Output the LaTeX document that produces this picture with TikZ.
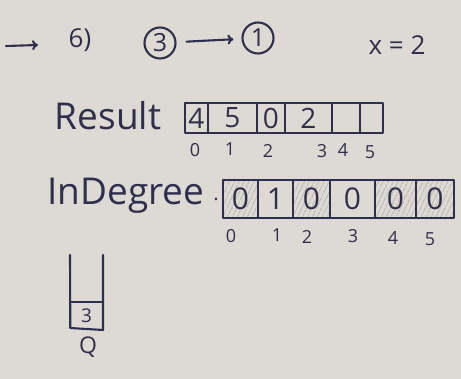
\documentclass[tikz,border=0pt]{standalone}
\usepackage{fontspec}
\setmainfont{Open Sans}
\usetikzlibrary{arrows.meta,patterns.meta}
\definecolor{paper}{RGB}{221,218,211}
\definecolor{inkc}{RGB}{48,46,78}
\definecolor{shade}{RGB}{178,175,168}
\begin{document}
\begin{tikzpicture}[x=1pt,y=-1pt,
  ink/.style={draw=inkc,line width=2.1pt,line cap=round,line join=round},
  txt/.style={text=inkc,inner sep=0pt},
  big/.style={txt,font=\fontsize{37}{37}\selectfont},
  mid/.style={txt,font=\fontsize{26}{26}\selectfont},
  idx/.style={txt,font=\fontsize{18}{18}\selectfont},
  circ/.style={ink,circle,minimum size=31pt,inner sep=0pt,text=inkc,font=\fontsize{25}{25}\selectfont},
  rcell/.style={ink,rectangle,minimum height=30pt,inner sep=0pt,text=inkc,font=\fontsize{28}{28}\selectfont},
  dcell/.style={ink,rectangle,minimum height=38pt,inner sep=0pt,text=inkc,font=\fontsize{30}{30}\selectfont},
  shaded/.style={pattern={Lines[angle=65,distance=4pt,line width=1.4pt]},pattern color=shade},
  arr/.style={ink,-{To[length=6pt,width=10pt]}}
]
\useasboundingbox (0,0) rectangle (461,379);
\fill[paper] (0,0) rectangle (461,379);

% top line
\coordinate (a0) at (6,46);
\coordinate (a1) at (38,45);
\draw[arr] (a0) -- (a1);
\node[mid] (stepno) at (80,40) {6)};
\node[circ] (c3) at (160,43) {3};
\node[circ] (c1) at (258,38) {1};
\draw[arr,shorten <=10pt,shorten >=8pt] (c3) -- (c1);
\node[mid] (xeq) at (397,45) {x = 2};

% Result
\node[big] (reslab) at (108,116) {Result};
\node[rcell,minimum width=23pt] (r0) at (196.5,118) {4};
\node[rcell,minimum width=49pt] (r1) at (232.5,118) {5};
\node[rcell,minimum width=28pt] (r2) at (271,118) {0};
\node[rcell,minimum width=47pt] (r3) at (308.5,118) {2};
\node[rcell,minimum width=28pt] (r4) at (346,118) {};
\node[rcell,minimum width=23pt] (r5) at (371.5,118) {};
\node[idx] (ri0) at (195,150) {0};
\node[idx] (ri1) at (230,149) {1};
\node[idx] (ri2) at (268,151) {2};
\node[idx] (ri3) at (322,151) {3};
\node[idx] (ri4) at (343,150) {4};
\node[idx] (ri5) at (370,152) {5};

% InDegree
\node[big] (deglab) at (126,196) {InDegree};
\node[txt,font=\fontsize{20}{20}\selectfont] (dot) at (216,199) {.};
\node[dcell,shaded,minimum width=35pt] (d0) at (240.5,199) {0};
\node[dcell,minimum width=35pt] (d1) at (275.5,199) {1};
\node[dcell,shaded,minimum width=37pt] (d2) at (311.5,199) {0};
\node[dcell,minimum width=45pt] (d3) at (352.5,199) {0};
\node[dcell,shaded,minimum width=41pt] (d4) at (395.5,199) {0};
\node[dcell,shaded,minimum width=38pt] (d5) at (435,199) {0};
\node[idx] (di0) at (231,236) {0};
\node[idx] (di1) at (277,235) {1};
\node[idx] (di2) at (307,237) {2};
\node[idx] (di3) at (353,236) {3};
\node[idx] (di4) at (393,238) {4};
\node[idx] (di5) at (430,239) {5};

% Queue
\node[rectangle,minimum width=32pt,minimum height=27pt,inner sep=0pt,text=inkc,font=\fontsize{19}{19}\selectfont] (q0) at (86.5,316) {3};
\draw[ink] (70,255) -- (q0.north west |- 0,328) -- (103,330) -- (103,255);
\draw[ink] (q0.north west) -- (q0.north east);
\node[txt,font=\fontsize{23}{23}\selectfont] (qlab) at (88,347) {Q};
\end{tikzpicture}
\end{document}
